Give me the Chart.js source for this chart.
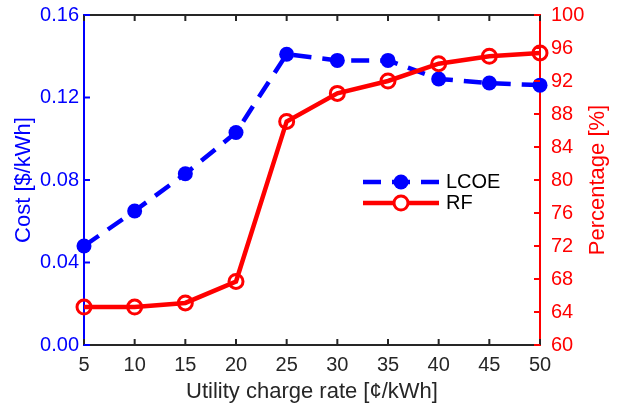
<!DOCTYPE html>
<html>
<head>
<meta charset="utf-8">
<script src="https://cdn.jsdelivr.net/npm/chart.js@4.4.1/dist/chart.umd.min.js"></script>
<style>
html, body { margin: 0; padding: 0; background: #fff; }
#wrap { width: 624px; height: 407px; }
</style>
</head>
<body>
<div id="wrap"><canvas id="chart"></canvas></div>
<script>
// data
const rates = [5, 10, 15, 20, 25, 30, 35, 40, 45, 50];
const lcoe = [0.048, 0.065, 0.083, 0.103, 0.141, 0.138, 0.138, 0.129, 0.127, 0.126];
const rf = [64.6, 64.6, 65.1, 67.7, 87.1, 90.5, 92.0, 94.1, 95.0, 95.4];

const xTicks = [5, 10, 15, 20, 25, 30, 35, 40, 45, 50];
const costTicks = [0, 0.04, 0.08, 0.12, 0.16];
const pctTicks = [60, 64, 68, 72, 76, 80, 84, 88, 92, 96, 100];

const BLUE = '#0000ff';
const RED = '#ff0000';
const DARK = '#262626';
const FONT = 'Liberation Sans, Arial, sans-serif';

function fixTicks(list) {
    return function (scale) {
        scale.ticks = list.map(v => ({ value: v }));
    };
}

// keep the plot box where the original has it
function fitY(scale) {
    scale.width = 84;
    scale.paddingTop = 0;
    scale.paddingBottom = 0;
}

// MATLAB style inward ticks, top box line, right title and legend
const boxPlugin = {
    id: 'box',
    afterDatasetsDraw(chart) {
        const ctx = chart.ctx;
        const a = chart.chartArea;
        const sx = chart.scales.x, sl = chart.scales.yCost, sr = chart.scales.yPct;
        const len = 6;
        ctx.save();
        ctx.lineWidth = 2;

        // top line
        ctx.strokeStyle = DARK;
        ctx.beginPath();
        ctx.moveTo(a.left, a.top);
        ctx.lineTo(a.right, a.top);
        ctx.stroke();

        // x ticks bottom and top
        xTicks.forEach(v => {
            const px = sx.getPixelForValue(v);
            ctx.beginPath();
            ctx.moveTo(px, a.bottom);
            ctx.lineTo(px, a.bottom - len);
            ctx.moveTo(px, a.top);
            ctx.lineTo(px, a.top + len);
            ctx.stroke();
        });

        ctx.strokeStyle = BLUE;
        costTicks.forEach(v => {
            const py = sl.getPixelForValue(v);
            ctx.beginPath();
            ctx.moveTo(a.left, py);
            ctx.lineTo(a.left + len, py);
            ctx.stroke();
        });

        ctx.strokeStyle = RED;
        pctTicks.forEach(v => {
            const py = sr.getPixelForValue(v);
            ctx.beginPath();
            ctx.moveTo(a.right, py);
            ctx.lineTo(a.right - len, py);
            ctx.stroke();
        });
        ctx.restore();
    },
    afterDraw(chart) {
        const ctx = chart.ctx;
        const a = chart.chartArea;
        ctx.save();

        // right axis title reads bottom to top like the left one
        ctx.save();
        ctx.translate(598, (a.top + a.bottom) / 2);
        ctx.rotate(-Math.PI / 2);
        ctx.fillStyle = RED;
        ctx.font = '22px ' + FONT;
        ctx.textAlign = 'center';
        ctx.textBaseline = 'middle';
        ctx.fillText('Percentage [%]', 0, 0);
        ctx.restore();

        // legend
        const x0 = 363, x1 = 439, xm = 401;
        ctx.lineWidth = 4.5;
        ctx.strokeStyle = BLUE;
        ctx.setLineDash([18, 11]);
        ctx.beginPath();
        ctx.moveTo(x0, 182);
        ctx.lineTo(x1, 182);
        ctx.stroke();
        ctx.setLineDash([]);
        ctx.fillStyle = BLUE;
        ctx.beginPath();
        ctx.arc(xm, 182, 7.5, 0, Math.PI * 2);
        ctx.fill();

        ctx.strokeStyle = RED;
        ctx.beginPath();
        ctx.moveTo(x0, 203);
        ctx.lineTo(x1, 203);
        ctx.stroke();
        ctx.lineWidth = 3;
        ctx.fillStyle = '#fff';
        ctx.beginPath();
        ctx.arc(xm, 203, 7, 0, Math.PI * 2);
        ctx.fill();
        ctx.stroke();

        ctx.fillStyle = '#000';
        ctx.font = '20px ' + FONT;
        ctx.textBaseline = 'middle';
        ctx.fillText('LCOE', 446, 182);
        ctx.fillText('RF', 446, 203);
        ctx.restore();
    }
};

new Chart(document.getElementById('chart').getContext('2d'), {
    type: 'line',
    data: {
        datasets: [{
            label: 'RF',
            data: rates.map((r, i) => ({ x: r, y: rf[i] })),
            yAxisID: 'yPct',
            borderColor: RED,
            borderWidth: 4.5,
            pointRadius: 7,
            pointBorderWidth: 3,
            pointBackgroundColor: 'rgba(255,255,255,0)',
            pointBorderColor: RED,
            tension: 0,
            clip: false,
            order: 0
        }, {
            label: 'LCOE',
            data: rates.map((r, i) => ({ x: r, y: lcoe[i] })),
            yAxisID: 'yCost',
            borderColor: BLUE,
            borderWidth: 4.5,
            borderDash: [18, 11],
            pointRadius: 7.5,
            pointBorderWidth: 0,
            pointBackgroundColor: BLUE,
            tension: 0,
            clip: false,
            order: 1
        }]
    },
    options: {
        responsive: true,
        maintainAspectRatio: false,
        animation: false,
        layout: { padding: { top: 15, right: 0, left: 0, bottom: 0 } },
        plugins: {
            legend: { display: false },
            tooltip: { enabled: false }
        },
        scales: {
            x: {
                type: 'linear',
                min: 5,
                max: 50,
                afterBuildTicks: fixTicks(xTicks),
                afterFit(scale) { scale.height = 62; },
                grid: { drawOnChartArea: false, drawTicks: false },
                border: { color: DARK, width: 2 },
                ticks: { color: DARK, padding: 8, font: { family: FONT, size: 20 } },
                title: {
                    display: true,
                    text: 'Utility charge rate [¢/kWh]',
                    color: DARK,
                    font: { family: FONT, size: 22 },
                    padding: { top: 0, bottom: 2 }
                }
            },
            yCost: {
                type: 'linear',
                position: 'left',
                min: 0,
                max: 0.16,
                afterBuildTicks: fixTicks(costTicks),
                afterFit: fitY,
                grid: { drawOnChartArea: false, drawTicks: false },
                border: { color: BLUE, width: 2 },
                ticks: {
                    color: BLUE,
                    padding: 5,
                    font: { family: FONT, size: 20 },
                    callback: v => v.toFixed(2)
                },
                title: {
                    display: true,
                    text: 'Cost [$/kWh]',
                    color: BLUE,
                    font: { family: FONT, size: 22 },
                    padding: { top: 11, bottom: 0 }
                }
            },
            yPct: {
                type: 'linear',
                position: 'right',
                min: 60,
                max: 100,
                afterBuildTicks: fixTicks(pctTicks),
                afterFit: fitY,
                grid: { drawOnChartArea: false, drawTicks: false },
                border: { color: RED, width: 2 },
                ticks: {
                    color: RED,
                    padding: 11,
                    font: { family: FONT, size: 20 },
                    callback: v => String(v)
                },
                title: { display: false }
            }
        }
    },
    plugins: [boxPlugin]
});
</script>
</body>
</html>
